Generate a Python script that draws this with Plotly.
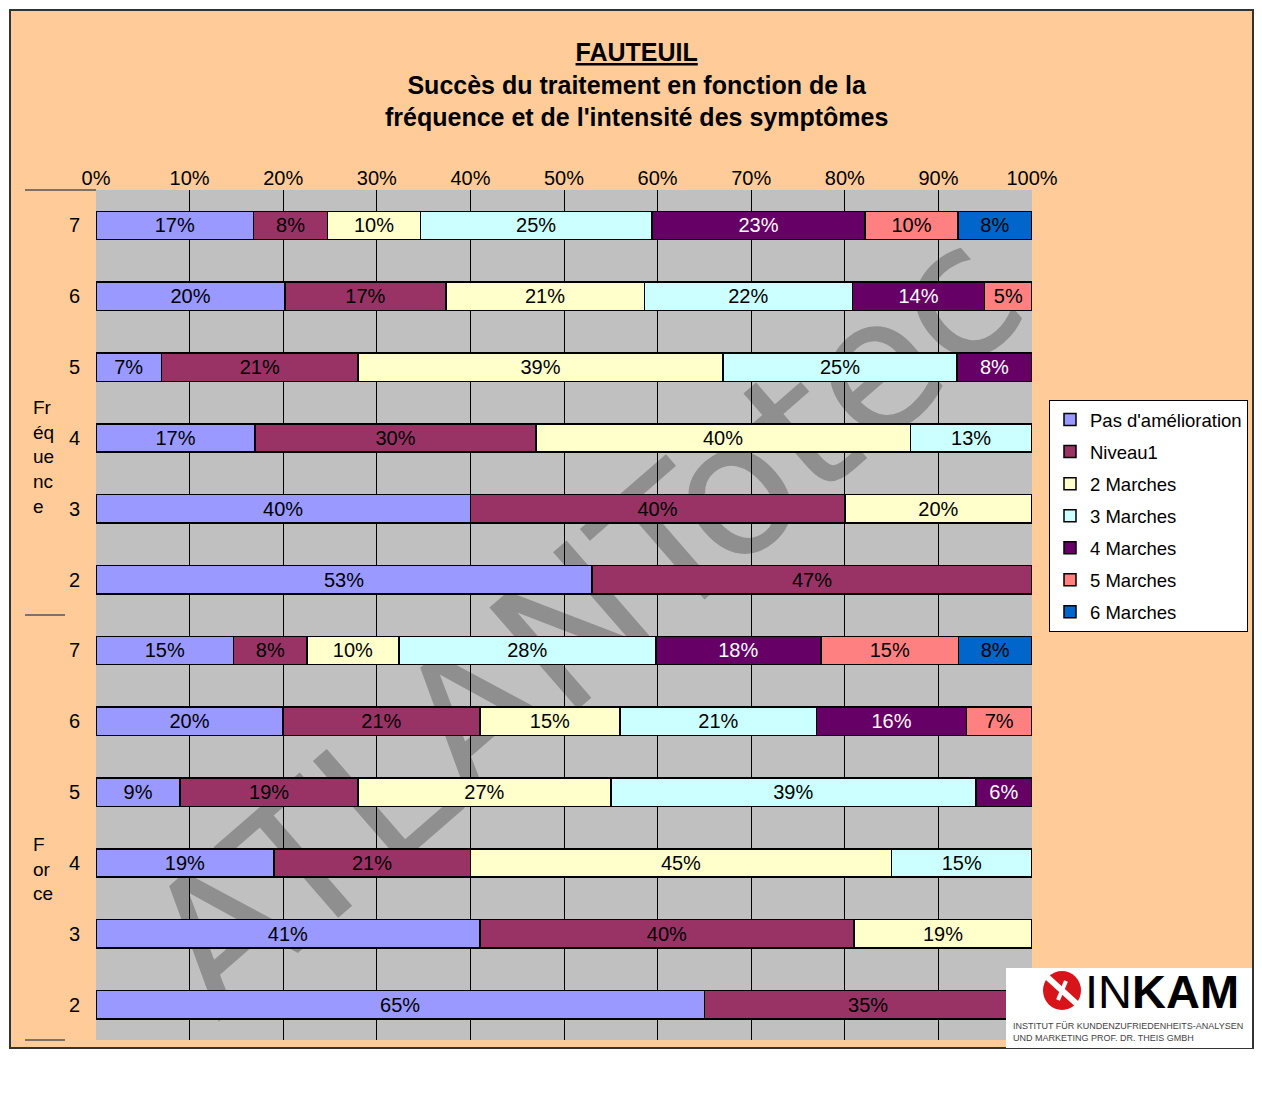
import plotly.graph_objects as go

# ---------------- data ----------------
group_names = ["Fréquence", "Force"]
levels = ["7", "6", "5", "4", "3", "2"]

series = ["Pas d'amélioration", "Niveau1", "2 Marches", "3 Marches",
          "4 Marches", "5 Marches", "6 Marches"]
colors = ["#9999FF", "#993366", "#FFFFCC", "#CCFFFF", "#660066", "#FF8080", "#0066CC"]
text_colors = ["black", "black", "black", "black", "white", "black", "black"]

# values (%) for levels 7..2, Fréquence group
freq_pas = [17, 20, 7, 17, 40, 53]
freq_niv1 = [8, 17, 21, 30, 40, 47]
freq_m2 = [10, 21, 39, 40, 20, None]
freq_m3 = [25, 22, 25, 13, None, None]
freq_m4 = [23, 14, 8, None, None, None]
freq_m5 = [10, 5, None, None, None, None]
freq_m6 = [8, None, None, None, None, None]

# values (%) for levels 7..2, Force group
force_pas = [15, 20, 9, 19, 41, 65]
force_niv1 = [8, 21, 19, 21, 40, 35]
force_m2 = [10, 15, 27, 45, 19, None]
force_m3 = [28, 21, 39, 15, None, None]
force_m4 = [18, 16, 6, None, None, None]
force_m5 = [15, 7, None, None, None, None]
force_m6 = [8, None, None, None, None, None]

freq_values = [freq_pas, freq_niv1, freq_m2, freq_m3, freq_m4, freq_m5, freq_m6]
force_values = [force_pas, force_niv1, force_m2, force_m3, force_m4, force_m5, force_m6]

title_lines = ["FAUTEUIL", "Succès du traitement en fonction de la",
               "fréquence et de l'intensité des symptômes"]
watermark = "ATLANTotec"

# ---------------- layout helpers ----------------
OFF = 8                      # default page margin of the html body
WIN_W, WIN_H = 1262, 1102
W, H = WIN_W - 2 * OFF, WIN_H - 2 * OFF
L, R, T, B = 96, 1032, 190, 1040   # plot area in window pixels
FONT = "Liberation Sans, Arial, sans-serif"


def px(x):
    return (x - L) / (R - L)


def py(y):
    return (B - y) / (B - T)


categories = [f"{g} {lv}" for g in group_names for lv in levels]
tick_text = [lv for g in group_names for lv in levels]

fig = go.Figure()
for i, name in enumerate(series):
    vals = freq_values[i] + force_values[i]
    fig.add_trace(go.Bar(
        name=name,
        y=categories,
        x=vals,
        orientation="h",
        legendgroup=name,
        marker=dict(color=colors[i], line=dict(color="black", width=1.5)),
        text=[f"{v}%" if v is not None else "" for v in vals],
        textposition="inside",
        insidetextanchor="middle",
        textangle=0,
        textfont=dict(family=FONT, size=20, color=text_colors[i]),
        hovertemplate="%{y}: %{text}<extra>" + name + "</extra>",
    ))

shapes = [
    # peach frame
    dict(type="rect", xref="paper", yref="paper", layer="below",
         x0=px(10), x1=px(1253), y0=py(1048), y1=py(10),
         fillcolor="#FFCC99", line=dict(color="#333333", width=2)),
    # grey plot area
    dict(type="rect", xref="paper", yref="paper", layer="below",
         x0=0, x1=1, y0=0, y1=1, fillcolor="#C0C0C0", line=dict(width=0)),
    # watermark
    dict(type="rect", xref="paper", yref="paper", layer="below",
         x0=px(570), x1=px(580), y0=py(615), y1=py(605),
         fillcolor="rgba(0,0,0,0)", line=dict(width=0),
         label=dict(text=watermark, textangle=-41,
                    font=dict(family="DejaVu Sans, sans-serif", size=185, color="#8F8F8F"))),
    # group dividers
    dict(type="line", xref="paper", yref="paper", x0=px(25), x1=0, y0=1, y1=1,
         line=dict(color="#555555", width=1.5)),
    dict(type="line", xref="paper", yref="paper", x0=px(25), x1=px(65), y0=0.5, y1=0.5,
         line=dict(color="#555555", width=1.5)),
    dict(type="line", xref="paper", yref="paper", x0=px(25), x1=px(65), y0=0, y1=0,
         line=dict(color="#555555", width=1.5)),
    # INKAM logo box
    dict(type="rect", xref="paper", yref="paper", layer="above",
         x0=px(1006), x1=px(1252), y0=py(1048), y1=py(968),
         fillcolor="white", line=dict(width=0)),
    dict(type="circle", xref="paper", yref="paper", layer="above",
         x0=px(1043), x1=px(1081), y0=py(1010), y1=py(971),
         fillcolor="#D7141A", line=dict(width=0)),
    dict(type="line", xref="paper", yref="paper", layer="above",
         x0=px(1046), x1=px(1078), y0=py(976), y1=py(1005),
         line=dict(color="white", width=6)),
    dict(type="line", xref="paper", yref="paper", layer="above",
         x0=px(1058), x1=px(1066), y0=py(1000), y1=py(981),
         line=dict(color="white", width=4)),
]

annotations = [
    dict(text=f"<b><u>{title_lines[0]}</u></b><br><b>{title_lines[1]}</b><br><b>{title_lines[2]}</b>",
         xref="paper", yref="paper", x=px(636), y=py(36), xanchor="center", yanchor="top",
         align="center", showarrow=False,
         font=dict(family=FONT, size=25, color="black")),
    dict(text="Fr<br>éq<br>ue<br>nc<br>e", xref="paper", yref="paper",
         x=px(31), y=py(457), xanchor="left", yanchor="middle", align="left",
         showarrow=False, font=dict(family=FONT, size=19, color="black")),
    dict(text="F<br>or<br>ce", xref="paper", yref="paper",
         x=px(31), y=py(869), xanchor="left", yanchor="middle", align="left",
         showarrow=False, font=dict(family=FONT, size=19, color="black")),
    dict(text="IN<b>KAM</b>", xref="paper", yref="paper",
         x=px(1083), y=py(991), xanchor="left", yanchor="middle",
         showarrow=False, font=dict(family=FONT, size=47, color="black")),
    dict(text="INSTITUT FÜR KUNDENZUFRIEDENHEITS-ANALYSEN<br>UND MARKETING PROF. DR. THEIS GMBH",
         xref="paper", yref="paper", x=px(1011), y=py(1032), xanchor="left",
         yanchor="middle", align="left", showarrow=False,
         font=dict(family=FONT, size=9, color="#444444")),
]

fig.update_layout(
    width=W, height=H,
    barmode="stack", barnorm="percent", bargap=0.6,
    paper_bgcolor="white", plot_bgcolor="rgba(0,0,0,0)",
    margin=dict(l=L - OFF, r=W + OFF - R, t=T - OFF, b=H + OFF - B, autoexpand=False),
    font=dict(family=FONT, size=20, color="black"),
    xaxis=dict(side="top", range=[0, 100], dtick=10, ticksuffix="%",
               showgrid=True, gridcolor="black", gridwidth=1, zeroline=False,
               ticks="", tickfont=dict(size=20), fixedrange=True),
    yaxis=dict(categoryorder="array", categoryarray=categories, autorange="reversed",
               tickmode="array", tickvals=categories, ticktext=tick_text,
               ticks="", ticklabelstandoff=15, showgrid=False, zeroline=False,
               tickfont=dict(size=20), fixedrange=True),
    legend=dict(x=px(1049), y=py(400), xanchor="left", yanchor="top",
                bgcolor="white", bordercolor="black", borderwidth=1,
                traceorder="grouped", tracegroupgap=5,
                font=dict(family=FONT, size=18.5, color="black")),
    shapes=shapes,
    annotations=annotations,
)

fig.write_html("out.html")
